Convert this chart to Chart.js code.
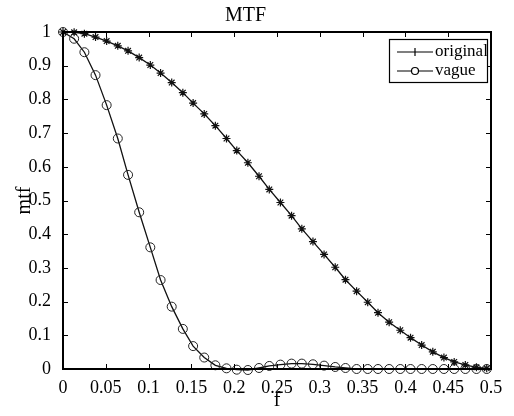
<!DOCTYPE html>
<html>
<head>
<meta charset="utf-8">
<title>MTF</title>
<script src="https://cdn.jsdelivr.net/npm/chart.js@4.4.0/dist/chart.umd.min.js"></script>
<style>
  html, body { margin: 0; padding: 0; background: #fff; }
  canvas { display: block; }
</style>
</head>
<body>
<canvas id="mtfChart" width="514" height="416"></canvas>
<script>
// spatial frequency samples
const freq = [0, 0.013, 0.025, 0.038, 0.051, 0.064, 0.076, 0.089, 0.102, 0.114,
  0.127, 0.14, 0.152, 0.165, 0.178, 0.191, 0.203, 0.216, 0.229, 0.241,
  0.254, 0.267, 0.279, 0.292, 0.305, 0.318, 0.33, 0.343, 0.356, 0.368,
  0.381, 0.394, 0.406, 0.419, 0.432, 0.445, 0.457, 0.47, 0.483, 0.495];

const original = [1.0, 0.999, 0.995, 0.985, 0.973, 0.959, 0.944, 0.924, 0.902, 0.878,
  0.85, 0.82, 0.789, 0.757, 0.722, 0.684, 0.648, 0.612, 0.572, 0.533,
  0.494, 0.455, 0.416, 0.378, 0.34, 0.302, 0.265, 0.231, 0.198, 0.167,
  0.139, 0.115, 0.093, 0.071, 0.051, 0.034, 0.021, 0.012, 0.005, 0.002];

const vague = [1.0, 0.98, 0.94, 0.872, 0.783, 0.684, 0.576, 0.465, 0.361, 0.264,
  0.185, 0.119, 0.068, 0.034, 0.011, 0.002, -0.002, -0.003, 0.003, 0.009,
  0.013, 0.016, 0.016, 0.014, 0.01, 0.006, 0.003, 0, 0, 0,
  0, 0, 0, 0, 0, 0, 0, 0, 0, 0];

const xTicks = [0, 0.05, 0.1, 0.15, 0.2, 0.25, 0.3, 0.35, 0.4, 0.45, 0.5];
const yTicks = [0, 0.1, 0.2, 0.3, 0.4, 0.5, 0.6, 0.7, 0.8, 0.9, 1];

const FONT = "'Liberation Serif', 'Times New Roman', serif";

// matlab style box: full frame, inward ticks, boxed legend
const matlabBox = {
  id: 'matlabBox',
  afterDatasetsDraw(chart) {
    const { ctx, chartArea: a, scales: { x, y } } = chart;
    ctx.save();
    ctx.strokeStyle = '#000';
    ctx.lineWidth = 1;
    ctx.beginPath();
    x.ticks.forEach(t => {
      const px = Math.round(x.getPixelForValue(t.value)) + 0.5;
      ctx.moveTo(px, a.bottom); ctx.lineTo(px, a.bottom - 5);
      ctx.moveTo(px, a.top); ctx.lineTo(px, a.top + 5);
    });
    y.ticks.forEach(t => {
      const py = Math.round(y.getPixelForValue(t.value)) + 0.5;
      ctx.moveTo(a.left, py); ctx.lineTo(a.left + 5, py);
      ctx.moveTo(a.right, py); ctx.lineTo(a.right - 5, py);
    });
    ctx.stroke();
    ctx.lineWidth = 2;
    ctx.strokeRect(a.left, a.top, a.right - a.left, a.bottom - a.top);

    // legend
    const bx = a.right - 102, by = a.top + 7, bw = 98, bh = 43;
    ctx.fillStyle = '#fff';
    ctx.fillRect(bx, by, bw, bh);
    ctx.lineWidth = 1.2;
    ctx.strokeRect(bx + 0.5, by + 0.5, bw, bh);
    ctx.font = '17px ' + FONT;
    ctx.textBaseline = 'middle';
    ctx.fillStyle = '#000';
    chart.data.datasets.forEach((ds, i) => {
      const ly = by + 13 + i * 19;
      ctx.lineWidth = 1.2;
      ctx.beginPath();
      ctx.moveTo(bx + 8, ly); ctx.lineTo(bx + 44, ly);
      ctx.stroke();
      const mx = bx + 26;
      ctx.beginPath();
      if (i === 0) {
        ctx.moveTo(mx, ly - 4); ctx.lineTo(mx, ly + 4);
      } else {
        ctx.fillStyle = '#fff';
        ctx.arc(mx, ly, 3.5, 0, Math.PI * 2);
        ctx.fill();
        ctx.fillStyle = '#000';
      }
      ctx.stroke();
      ctx.fillText(ds.label, bx + 46, ly);
    });
    ctx.restore();
  }
};

new Chart(document.getElementById('mtfChart'), {
  type: 'line',
  data: {
    datasets: [
      {
        label: 'original',
        data: freq.map((f, i) => ({ x: f, y: original[i] })),
        borderColor: '#111',
        borderWidth: 1.3,
        pointStyle: 'star',
        pointRadius: 4,
        pointBorderColor: '#111',
        pointBorderWidth: 1.2,
        pointBackgroundColor: 'transparent',
        tension: 0,
        clip: false
      },
      {
        label: 'vague',
        data: freq.map((f, i) => ({ x: f, y: vague[i] })),
        borderColor: '#111',
        borderWidth: 1.3,
        pointStyle: 'circle',
        pointRadius: 4.5,
        pointBorderColor: '#222',
        pointBorderWidth: 1,
        pointBackgroundColor: 'transparent',
        tension: 0,
        clip: false
      }
    ]
  },
  options: {
    responsive: false,
    animation: false,
    devicePixelRatio: 1,
    layout: { padding: { left: 0, right: 23, top: 0, bottom: 0 } },
    plugins: {
      legend: { display: false },
      tooltip: { enabled: false },
      title: {
        display: true,
        text: 'MTF',
        color: '#000',
        font: { family: FONT, size: 20, weight: 'normal' },
        padding: { top: 4, bottom: 4 }
      }
    },
    scales: {
      x: {
        type: 'linear',
        min: 0,
        max: 0.5,
        grid: { display: false },
        border: { display: false },
        afterBuildTicks: s => { s.ticks = xTicks.map(v => ({ value: v })); },
        afterFit: s => { s.height = 47; },
        ticks: {
          color: '#000',
          padding: 0,
          maxRotation: 0,
          font: { family: FONT, size: 18 },
          callback: v => String(v)
        },
        title: {
          display: true,
          text: 'f',
          color: '#000',
          font: { family: FONT, size: 20 },
          padding: { bottom: 3 }
        }
      },
      y: {
        type: 'linear',
        min: 0,
        max: 1,
        grid: { display: false },
        border: { display: false },
        afterBuildTicks: s => { s.ticks = yTicks.map(v => ({ value: v })); },
        afterFit: s => { s.width = 63; },
        ticks: {
          color: '#000',
          padding: 4,
          font: { family: FONT, size: 18 },
          callback: v => String(v)
        },
        title: {
          display: true,
          text: 'mtf',
          color: '#000',
          font: { family: FONT, size: 20 },
          padding: { top: 13 }
        }
      }
    }
  },
  plugins: [matlabBox]
});
</script>
</body>
</html>
